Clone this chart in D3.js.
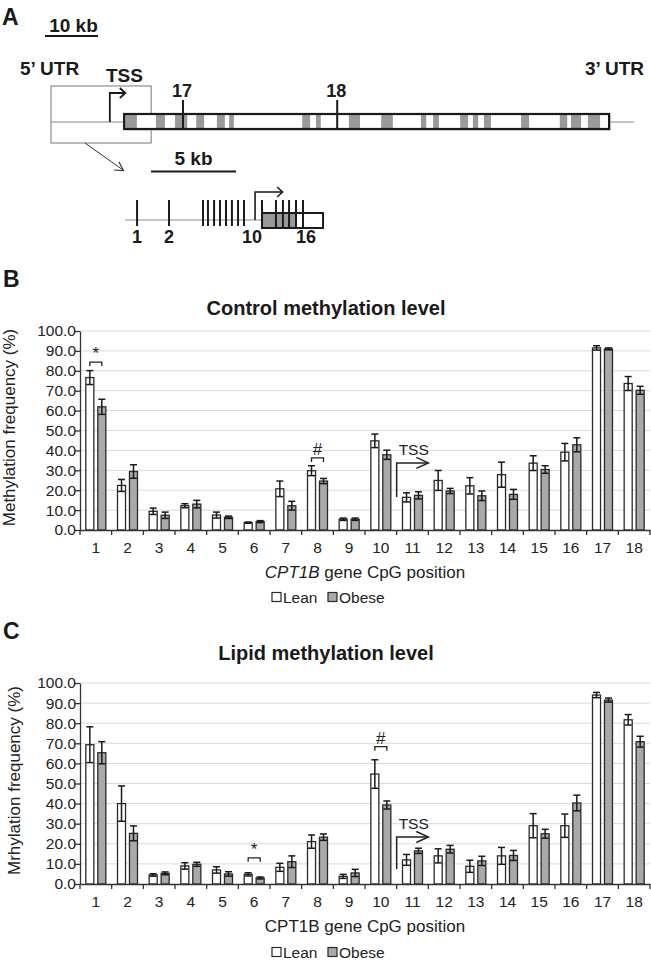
<!DOCTYPE html>
<html>
<head>
<meta charset="utf-8">
<script src="https://cdnjs.cloudflare.com/ajax/libs/d3/7.8.5/d3.min.js"></script>
<style>
  html, body { margin: 0; padding: 0; background: #fff; }
  svg { display: block; }
  .narrow { font-family: "Liberation Sans Narrow", "Arial Narrow", "Liberation Sans", Arial, sans-serif; font-weight: bold; }
  .sans { font-family: "Liberation Sans", Arial, Helvetica, sans-serif; }
</style>
</head>
<body>
<svg id="fig" width="651" height="962"></svg>
<script>
// ---------------- DATA ----------------
const cpgPositions = ["1","2","3","4","5","6","7","8","9","10","11","12","13","14","15","16","17","18"];
const groups = ["Lean", "Obese"];
const yTickValues = [0, 10, 20, 30, 40, 50, 60, 70, 80, 90, 100];

// Panel B: control methylation level (%)
const controlLean     = [76.6, 22.4, 9.4, 12.2, 7.5, 3.7, 20.7, 29.8, 5.4, 44.8, 16.4, 24.9, 22.2, 27.8, 33.6, 39.1, 91.5, 73.6];
const controlLeanErr  = [3.5, 3.0, 1.6, 1.0, 1.5, 0.3, 3.9, 2.5, 0.6, 3.4, 2.3, 5.0, 4.1, 6.3, 3.7, 4.4, 1.1, 3.5];
const controlObese    = [61.9, 29.4, 7.4, 13.0, 6.4, 4.2, 12.2, 24.6, 5.4, 37.8, 17.4, 19.6, 17.2, 17.9, 30.4, 42.8, 91.0, 70.2];
const controlObeseErr = [3.8, 3.4, 1.6, 1.9, 0.6, 0.5, 2.2, 1.3, 0.6, 2.3, 1.8, 1.3, 2.4, 2.5, 1.9, 3.5, 0.5, 2.0];

// Panel C: lipid methylation level (%)
const lipidLean     = [69.3, 40.0, 4.5, 9.0, 7.0, 4.8, 8.3, 21.1, 3.8, 54.7, 12.0, 14.0, 8.8, 14.0, 29.0, 29.0, 94.0, 81.7];
const lipidLeanErr  = [8.9, 8.8, 0.6, 1.6, 1.6, 0.8, 2.0, 3.3, 1.0, 7.1, 2.7, 3.5, 3.0, 4.2, 6.0, 5.8, 1.3, 2.6];
const lipidObese    = [65.3, 25.2, 5.3, 9.8, 5.0, 3.0, 11.1, 23.3, 5.5, 39.3, 16.5, 17.3, 11.5, 14.2, 25.0, 40.3, 91.5, 70.8];
const lipidObeseErr = [5.5, 3.7, 0.7, 1.0, 1.1, 0.5, 2.9, 1.6, 1.8, 2.0, 1.3, 1.9, 2.3, 2.5, 2.2, 3.9, 1.0, 2.7];

// significance brackets: position, symbol, bracket height (%)
const controlSig = [{pos: "1", symbol: "*", level: 84.4}, {pos: "8", symbol: "#", level: 36.2}];
const lipidSig   = [{pos: "6", symbol: "*", level: 13.0}, {pos: "10", symbol: "#", level: 68.3}];
// TSS arrow inside charts: starts at boundary of CpG 11, from/to heights (%)
const controlTss = {pos: "11", end: "12", from: 16.6, to: 33.7};
const lipidTss   = {pos: "11", end: "12", from: 7.5, to: 23.4};

// Panel A: gene map (kb)
const geneLineKb = [0, 110];
const zoomBoxKb = [0, 18.9];
const geneBodyKb = [13.8, 105.3];
const tssKb = 11.1;
const exonBlocksKb = [[14.0,16.2],[19.8,21.5],[23.4,25.7],[27.4,28.9],[31.3,32.8],[33.6,34.5],[47.4,48.9],[50.0,50.9],
  [56.2,58.3],[62.3,64.5],[69.8,70.8],[72.1,73.2],[77.2,78.7],[79.6,80.6],[81.7,83.0],[88.7,90.2],[96.0,97.4],[98.1,100.0],[101.3,103.6]];
const distalCpG = [{label: "17", kb: 24.9}, {label: "18", kb: 54.0}];
const scaleBarMainKb = 10;
// inset (kb)
const insetLineKb = [0, 8.06];
const insetBodyKb = [8.06, 11.65];
const insetShadedKb = [8.06, 10.1];
const insetTssKb = 7.65;
const insetCpGKb = [0.71, 2.59, 4.59, 4.88, 5.24, 5.59, 5.94, 6.29, 6.65, 7.0, 8.06, 8.88, 9.29, 9.65, 10.06, 10.47];
const insetLabeled = [{idx: 1, label: "1"}, {idx: 2, label: "2"}, {idx: 10, label: "10", dx: 8}, {idx: 16, label: "16", dx: 3}];
const scaleBarInsetKb = 5;

// ---------------- DRAW ----------------
const svg = d3.select("#fig");
const INK = "#1a1a1a";

// Panel letters
const letters = [{t: "A", x: 2, y: 25}, {t: "B", x: 3, y: 287}, {t: "C", x: 3, y: 639}];
svg.selectAll("text.letter").data(letters).join("text")
  .attr("class", "letter sans").attr("x", d => d.x).attr("y", d => d.y)
  .attr("font-size", 23).attr("font-weight", "bold").attr("fill", INK).text(d => d.t);

// ---- Panel A ----
(function drawPanelA() {
  const g = svg.append("g");
  const xk = d3.scaleLinear().domain([0, 110]).range([51, 634]);
  const yLine = 122;

  // scale bar 10 kb
  const sbX0 = 45;
  g.append("line").attr("x1", sbX0).attr("x2", sbX0 + xk(scaleBarMainKb) - xk(0)).attr("y1", 36).attr("y2", 36)
    .attr("stroke", INK).attr("stroke-width", 1.8);
  g.append("text").attr("class", "narrow").attr("x", sbX0 + (xk(scaleBarMainKb) - xk(0)) / 2 + 2).attr("y", 32)
    .attr("text-anchor", "middle").attr("font-size", 19).attr("fill", INK).text(scaleBarMainKb + " kb");

  g.append("text").attr("class", "narrow").attr("x", 20).attr("y", 75).attr("font-size", 19).attr("fill", INK).text("5\u2019 UTR");
  g.append("text").attr("class", "narrow").attr("x", 644).attr("y", 75).attr("text-anchor", "end").attr("font-size", 19).attr("fill", INK).text("3\u2019 UTR");
  g.append("text").attr("class", "narrow").attr("x", 106).attr("y", 82).attr("font-size", 19).attr("fill", INK).text("TSS");

  // zoom box
  g.append("rect").attr("x", xk(zoomBoxKb[0])).attr("y", 86).attr("width", xk(zoomBoxKb[1]) - xk(zoomBoxKb[0])).attr("height", 57)
    .attr("fill", "none").attr("stroke", "#777").attr("stroke-width", 1);
  // gene line
  g.append("line").attr("x1", xk(geneLineKb[0])).attr("x2", xk(geneLineKb[1])).attr("y1", yLine).attr("y2", yLine)
    .attr("stroke", "#888").attr("stroke-width", 1);
  // TSS arrow
  const tx = xk(tssKb);
  g.append("path").attr("d", `M${tx},${yLine}V93H${tx + 15}`).attr("fill", "none").attr("stroke", INK).attr("stroke-width", 1.8);
  g.append("path").attr("d", `M${tx + 10},88L${tx + 15.5},93L${tx + 10},98`).attr("fill", "none").attr("stroke", INK).attr("stroke-width", 1.8);

  // gene body
  const by0 = 114, bh = 15;
  g.append("rect").attr("x", xk(geneBodyKb[0]) + 1.5).attr("y", by0 + 1.5).attr("width", xk(geneBodyKb[1]) - xk(geneBodyKb[0])).attr("height", bh)
    .attr("fill", "#bbb");
  g.append("rect").attr("x", xk(geneBodyKb[0])).attr("y", by0).attr("width", xk(geneBodyKb[1]) - xk(geneBodyKb[0])).attr("height", bh)
    .attr("fill", "#fff");
  g.selectAll("rect.exon").data(exonBlocksKb).join("rect").attr("class", "exon")
    .attr("x", d => xk(d[0])).attr("width", d => xk(d[1]) - xk(d[0])).attr("y", by0).attr("height", bh).attr("fill", "#9a9a9a");
  g.append("rect").attr("x", xk(geneBodyKb[0])).attr("y", by0).attr("width", xk(geneBodyKb[1]) - xk(geneBodyKb[0])).attr("height", bh)
    .attr("fill", "none").attr("stroke", INK).attr("stroke-width", 2.2);
  // distal CpGs
  g.selectAll("line.distal").data(distalCpG).join("line").attr("class", "distal")
    .attr("x1", d => xk(d.kb)).attr("x2", d => xk(d.kb)).attr("y1", 100).attr("y2", by0 + bh)
    .attr("stroke", INK).attr("stroke-width", 2);
  g.selectAll("text.distal").data(distalCpG).join("text").attr("class", "distal narrow")
    .attr("x", d => xk(d.kb) - 1).attr("y", 97).attr("text-anchor", "middle").attr("font-size", 18).attr("fill", INK).text(d => d.label);

  // zoom arrow
  g.append("line").attr("x1", 85).attr("y1", 143).attr("x2", 123).attr("y2", 170).attr("stroke", "#333").attr("stroke-width", 1);
  g.append("path").attr("d", "M114,170L123.5,170.5L119,162").attr("fill", "none").attr("stroke", "#333").attr("stroke-width", 1.2);

  // ---- inset ----
  const xi = d3.scaleLinear().domain([0, 10]).range([125, 295]);
  const iy = 220;
  g.append("line").attr("x1", xi(scaleBarInsetKb) - (xi(scaleBarInsetKb) - xi(0)) + 26).attr("x2", xi(scaleBarInsetKb) + 26)
    .attr("y1", 171.5).attr("y2", 171.5).attr("stroke", INK).attr("stroke-width", 1.8);
  g.append("text").attr("class", "narrow").attr("x", xi(scaleBarInsetKb / 2) + 26).attr("y", 165).attr("text-anchor", "middle")
    .attr("font-size", 19).attr("fill", INK).text(scaleBarInsetKb + " kb");

  g.append("line").attr("x1", xi(insetLineKb[0])).attr("x2", xi(insetLineKb[1])).attr("y1", iy).attr("y2", iy)
    .attr("stroke", "#888").attr("stroke-width", 1);
  const ib0 = 213, ibh = 15;
  g.append("rect").attr("x", xi(insetBodyKb[0])).attr("y", ib0).attr("width", xi(insetBodyKb[1]) - xi(insetBodyKb[0])).attr("height", ibh).attr("fill", "#fff");
  g.append("rect").attr("x", xi(insetShadedKb[0])).attr("y", ib0).attr("width", xi(insetShadedKb[1]) - xi(insetShadedKb[0])).attr("height", ibh).attr("fill", "#999");
  g.append("rect").attr("x", xi(insetBodyKb[0])).attr("y", ib0).attr("width", xi(insetBodyKb[1]) - xi(insetBodyKb[0])).attr("height", ibh)
    .attr("fill", "none").attr("stroke", INK).attr("stroke-width", 2);
  g.selectAll("line.site").data(insetCpGKb).join("line").attr("class", "site")
    .attr("x1", d => xi(d)).attr("x2", d => xi(d)).attr("y1", 200).attr("y2", d => d >= insetBodyKb[0] ? ib0 + ibh : 226)
    .attr("stroke", INK).attr("stroke-width", 2);
  const itx = xi(insetTssKb);
  g.append("path").attr("d", `M${itx},${iy}V192H${itx + 27}`).attr("fill", "none").attr("stroke", INK).attr("stroke-width", 1.6);
  g.append("path").attr("d", `M${itx + 22},187L${itx + 27.5},192L${itx + 22},197`).attr("fill", "none").attr("stroke", INK).attr("stroke-width", 1.6);
  g.selectAll("text.site").data(insetLabeled).join("text").attr("class", "site narrow")
    .attr("x", d => xi(insetCpGKb[d.idx - 1]) + (d.dx || 0)).attr("y", 243).attr("text-anchor", "middle")
    .attr("font-size", 18).attr("fill", INK).text(d => d.label);
})();

// ---- Bar charts ----
function drawChart(cfg) {
  const g = svg.append("g");
  const x = d3.scaleBand().domain(cpgPositions).range([80, 650]).paddingInner(0).paddingOuter(0);
  const y = d3.scaleLinear().domain([0, 100]).range([cfg.y0, cfg.y100]);
  const xg = d3.scaleBand().domain(groups).range([x.bandwidth() / 2 - 10, x.bandwidth() / 2 + 10]).paddingInner(0.33);
  const fills = {Lean: "#ffffff", Obese: "#a9a9a9"};

  // title
  g.append("text").attr("class", "sans").attr("x", 326).attr("y", cfg.titleY).attr("text-anchor", "middle")
    .attr("font-size", 20).attr("font-weight", "bold").attr("fill", INK).text(cfg.title);

  // gridlines
  g.append("g").selectAll("line").data(yTickValues.filter(v => v > 0)).join("line")
    .attr("x1", 80).attr("x2", 650).attr("y1", d => y(d)).attr("y2", d => y(d))
    .attr("stroke", "#d9d9d9").attr("stroke-width", 1);

  // y axis
  const ya = g.append("g").attr("transform", "translate(80,0)")
    .call(d3.axisLeft(y).tickValues(yTickValues).tickFormat(d3.format(".1f")).tickSize(5).tickSizeOuter(0));
  ya.select(".domain").attr("stroke", "#333").attr("stroke-width", 1.3);
  ya.selectAll(".tick line").attr("stroke", "#333").attr("stroke-width", 1.3);
  ya.selectAll(".tick text").attr("class", "sans").attr("font-size", 15.5).attr("fill", "#222").attr("x", -4);

  // bars
  const rows = [];
  cpgPositions.forEach((p, i) => {
    rows.push({pos: p, grp: "Lean", v: cfg.lean[i], e: cfg.leanErr[i]});
    rows.push({pos: p, grp: "Obese", v: cfg.obese[i], e: cfg.obeseErr[i]});
  });
  g.append("g").selectAll("rect").data(rows).join("rect")
    .attr("x", d => x(d.pos) + xg(d.grp)).attr("width", xg.bandwidth())
    .attr("y", d => y(d.v)).attr("height", d => y(0) - y(d.v))
    .attr("fill", d => fills[d.grp]).attr("stroke", "#2a2a2a").attr("stroke-width", 1.3);

  // error bars
  const eb = g.append("g").attr("stroke", "#1a1a1a").attr("stroke-width", 1.5);
  const cw = 3.5;
  rows.forEach(d => {
    const cx = x(d.pos) + xg(d.grp) + xg.bandwidth() / 2;
    eb.append("line").attr("x1", cx).attr("x2", cx).attr("y1", y(d.v + d.e)).attr("y2", y(Math.max(0, d.v - d.e)));
    eb.append("line").attr("x1", cx - cw).attr("x2", cx + cw).attr("y1", y(d.v + d.e)).attr("y2", y(d.v + d.e));
    eb.append("line").attr("x1", cx - cw).attr("x2", cx + cw).attr("y1", y(Math.max(0, d.v - d.e))).attr("y2", y(Math.max(0, d.v - d.e)));
  });

  // x axis
  const xa = g.append("g").attr("transform", `translate(0,${cfg.y0})`)
    .call(d3.axisBottom(x).tickSize(0).tickSizeOuter(0));
  xa.select(".domain").attr("stroke", "#333").attr("stroke-width", 1.3);
  xa.selectAll(".tick text").attr("class", "sans").attr("font-size", 15.5).attr("fill", "#222").attr("dy", null).attr("y", 23);
  g.append("g").selectAll("line").data(cpgPositions.concat(["end"])).join("line")
    .attr("x1", d => d === "end" ? 650 : x(d)).attr("x2", d => d === "end" ? 650 : x(d))
    .attr("y1", cfg.y0).attr("y2", cfg.y0 + 5).attr("stroke", "#333").attr("stroke-width", 1.3);

  // axis titles
  const xt = g.append("text").attr("class", "sans").attr("x", 365).attr("y", cfg.xTitleY).attr("text-anchor", "middle")
    .attr("font-size", 17).attr("fill", "#222");
  xt.append("tspan").attr("font-style", cfg.italicGene ? "italic" : "normal").text("CPT1B");
  xt.append("tspan").text(" gene CpG position");
  g.append("text").attr("class", "sans").attr("transform", `translate(${cfg.yTitleX},${(cfg.y0 + cfg.y100) / 2 - 3}) rotate(-90)`)
    .attr("text-anchor", "middle").attr("font-size", 17).attr("fill", "#222").text(cfg.yTitle);

  // significance
  cfg.sig.forEach(s => {
    const xa0 = x(s.pos) + xg("Lean") + xg.bandwidth() / 2;
    const xa1 = x(s.pos) + xg("Obese") + xg.bandwidth() / 2;
    const yy = y(s.level);
    g.append("path").attr("d", `M${xa0},${yy + 4}V${yy}H${xa1}V${yy + 4}`).attr("fill", "none").attr("stroke", "#222").attr("stroke-width", 1.3);
    g.append("text").attr("class", "sans").attr("x", (xa0 + xa1) / 2).attr("y", yy - 3).attr("text-anchor", "middle")
      .attr("font-size", 17).attr("fill", "#222").text(s.symbol);
  });

  // TSS arrow
  const t = cfg.tss;
  const ax = x(t.pos), bx = x(t.end);
  g.append("path").attr("d", `M${ax},${y(t.from)}V${y(t.to)}H${bx}`).attr("fill", "none").attr("stroke", "#222").attr("stroke-width", 1.5);
  g.append("path").attr("d", `M${bx - 12},${y(t.to) - 5.5}L${bx},${y(t.to)}L${bx - 12},${y(t.to) + 5.5}`).attr("fill", "none").attr("stroke", "#222").attr("stroke-width", 1.5);
  g.append("text").attr("class", "sans").attr("x", ax + 2).attr("y", y(t.to) - 8).attr("font-size", 15.5).attr("fill", "#222").text("TSS");

  // legend
  const lg = g.append("g").attr("transform", `translate(0,${cfg.legendY})`);
  const legendItems = [{grp: "Lean", x: 272}, {grp: "Obese", x: 328}];
  lg.selectAll("rect").data(legendItems).join("rect")
    .attr("x", d => d.x).attr("y", -4.5).attr("width", 9).attr("height", 9)
    .attr("fill", d => fills[d.grp]).attr("stroke", "#2a2a2a").attr("stroke-width", 1.2);
  lg.selectAll("text").data(legendItems).join("text").attr("class", "sans")
    .attr("x", d => d.x + 11).attr("y", 5.5).attr("font-size", 15.5).attr("fill", "#222").text(d => d.grp);
}

drawChart({
  title: "Control methylation level", titleY: 315, y0: 530, y100: 331,
  lean: controlLean, leanErr: controlLeanErr, obese: controlObese, obeseErr: controlObeseErr,
  sig: controlSig, tss: controlTss, xTitleY: 578, legendY: 597, italicGene: true,
  yTitle: "Methylation frequency (%)", yTitleX: 15
});
drawChart({
  title: "Lipid methylation level", titleY: 660, y0: 884, y100: 683,
  lean: lipidLean, leanErr: lipidLeanErr, obese: lipidObese, obeseErr: lipidObeseErr,
  sig: lipidSig, tss: lipidTss, xTitleY: 932, legendY: 952, italicGene: false,
  yTitle: "Mrhylation frequency (%)", yTitleX: 20
});
</script>
</body>
</html>
